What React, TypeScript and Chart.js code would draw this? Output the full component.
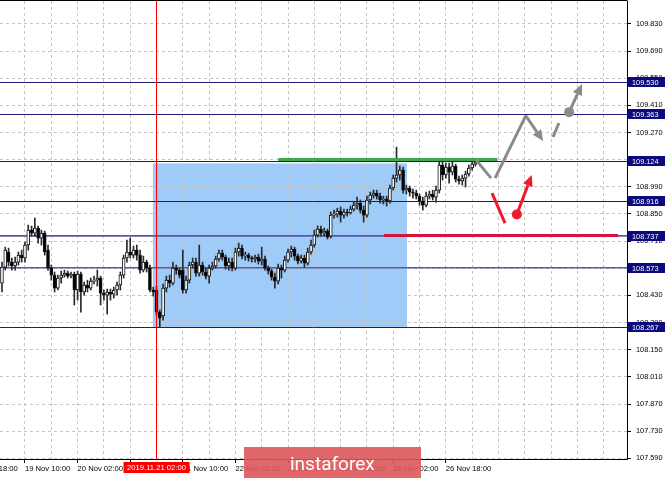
import { useEffect, useRef } from 'react';
import { Chart, registerables } from 'chart.js';

Chart.register(...registerables);

// ---- data ----
const firstBarHour = -7; // hours after 19 Nov 10:00 (weekend skipped)

const opens = [
  108.494, 108.576, 108.654, 108.602, 108.582, 108.602, 108.638, 108.623, 108.690, 108.767,
  108.751, 108.777, 108.726, 108.751, 108.664, 108.571, 108.535, 108.468, 108.520, 108.535,
  108.545, 108.530, 108.540, 108.458, 108.540, 108.448, 108.484, 108.468, 108.504, 108.509,
  108.520, 108.442, 108.432, 108.448, 108.437, 108.458, 108.484, 108.535, 108.623, 108.654,
  108.638, 108.664, 108.638, 108.561, 108.602, 108.571, 108.458, 108.458, 108.344, 108.324,
  108.468, 108.509, 108.494, 108.571, 108.561, 108.561, 108.458, 108.509, 108.587, 108.602,
  108.545, 108.587, 108.551, 108.530, 108.571, 108.582, 108.618, 108.648, 108.628, 108.582,
  108.602, 108.571, 108.654, 108.674, 108.633, 108.638, 108.623, 108.618, 108.628, 108.607,
  108.618, 108.571, 108.556, 108.525, 108.504, 108.571, 108.561, 108.612, 108.654, 108.669,
  108.633, 108.607, 108.623, 108.597, 108.654, 108.690, 108.741, 108.772, 108.751, 108.762,
  108.736, 108.844, 108.849, 108.865, 108.844, 108.860, 108.855, 108.875, 108.896, 108.906,
  108.870, 108.844, 108.922, 108.947, 108.958, 108.942, 108.922, 108.927, 108.917, 108.984,
  109.035, 109.051, 109.076, 108.973, 108.984, 108.963, 108.958, 108.942, 108.917, 108.896,
  108.942, 108.953, 108.937, 108.973, 109.102, 109.051, 109.092, 109.066, 109.097, 109.030,
  109.020, 109.035, 109.056, 109.087, 109.107,
];

const closes = [
  108.576, 108.664, 108.602, 108.582, 108.602, 108.638, 108.623, 108.690, 108.767, 108.751,
  108.777, 108.726, 108.751, 108.654, 108.571, 108.535, 108.468, 108.520, 108.535, 108.545,
  108.530, 108.540, 108.458, 108.540, 108.448, 108.484, 108.468, 108.504, 108.509, 108.520,
  108.442, 108.432, 108.448, 108.437, 108.458, 108.484, 108.535, 108.623, 108.654, 108.638,
  108.664, 108.638, 108.561, 108.602, 108.571, 108.458, 108.448, 108.344, 108.313, 108.468,
  108.509, 108.494, 108.571, 108.561, 108.535, 108.458, 108.509, 108.587, 108.602, 108.545,
  108.587, 108.551, 108.530, 108.571, 108.582, 108.618, 108.648, 108.628, 108.582, 108.602,
  108.571, 108.654, 108.674, 108.633, 108.638, 108.623, 108.618, 108.628, 108.607, 108.618,
  108.571, 108.556, 108.525, 108.504, 108.571, 108.561, 108.612, 108.654, 108.669, 108.633,
  108.607, 108.623, 108.597, 108.654, 108.690, 108.741, 108.772, 108.751, 108.762, 108.731,
  108.844, 108.849, 108.865, 108.844, 108.860, 108.855, 108.875, 108.896, 108.906, 108.870,
  108.844, 108.922, 108.947, 108.958, 108.942, 108.922, 108.927, 108.917, 108.984, 109.035,
  109.051, 109.076, 108.973, 108.984, 108.963, 108.958, 108.942, 108.917, 108.896, 108.942,
  108.953, 108.937, 108.973, 109.102, 109.051, 109.092, 109.066, 109.097, 109.030, 109.020,
  109.035, 109.056, 109.087, 109.107, 109.118,
];

const highs = [
  108.602, 108.679, 108.674, 108.623, 108.628, 108.654, 108.664, 108.705, 108.793, 108.788,
  108.829, 108.788, 108.767, 108.762, 108.690, 108.587, 108.551, 108.535, 108.556, 108.561,
  108.556, 108.551, 108.551, 108.556, 108.551, 108.499, 108.509, 108.520, 108.530, 108.561,
  108.530, 108.458, 108.463, 108.463, 108.473, 108.499, 108.551, 108.638, 108.716, 108.726,
  108.685, 108.690, 108.664, 108.633, 108.612, 108.587, 108.473, 108.478, 108.355, 108.489,
  108.530, 108.535, 108.602, 108.587, 108.571, 108.664, 108.530, 108.602, 108.623, 108.623,
  108.690, 108.602, 108.571, 108.587, 108.602, 108.633, 108.664, 108.664, 108.638, 108.623,
  108.623, 108.674, 108.700, 108.690, 108.654, 108.648, 108.633, 108.638, 108.643, 108.679,
  108.633, 108.582, 108.566, 108.545, 108.592, 108.587, 108.633, 108.669, 108.685, 108.679,
  108.643, 108.638, 108.638, 108.674, 108.716, 108.767, 108.788, 108.788, 108.777, 108.772,
  108.860, 108.870, 108.880, 108.886, 108.875, 108.875, 108.891, 108.911, 108.937, 108.922,
  108.891, 108.942, 108.963, 108.973, 108.973, 108.958, 108.942, 108.942, 108.999, 109.051,
  109.195, 109.097, 109.092, 108.999, 108.994, 108.978, 108.973, 108.953, 108.937, 108.963,
  108.968, 108.973, 108.994, 109.118, 109.118, 109.112, 109.112, 109.118, 109.107, 109.045,
  109.051, 109.071, 109.102, 109.123, 109.133,
];

const lows = [
  108.448, 108.561, 108.582, 108.561, 108.561, 108.587, 108.602, 108.602, 108.664, 108.736,
  108.736, 108.700, 108.690, 108.638, 108.561, 108.509, 108.448, 108.458, 108.494, 108.525,
  108.520, 108.520, 108.381, 108.406, 108.344, 108.432, 108.448, 108.458, 108.489, 108.478,
  108.381, 108.406, 108.334, 108.406, 108.417, 108.432, 108.458, 108.520, 108.602, 108.623,
  108.623, 108.612, 108.545, 108.551, 108.551, 108.448, 108.427, 108.329, 108.267, 108.303,
  108.448, 108.473, 108.484, 108.540, 108.520, 108.442, 108.442, 108.494, 108.571, 108.530,
  108.530, 108.535, 108.515, 108.494, 108.561, 108.571, 108.607, 108.612, 108.566, 108.561,
  108.556, 108.561, 108.633, 108.618, 108.612, 108.607, 108.602, 108.602, 108.592, 108.587,
  108.561, 108.540, 108.509, 108.468, 108.489, 108.520, 108.551, 108.602, 108.628, 108.612,
  108.592, 108.597, 108.576, 108.587, 108.643, 108.679, 108.731, 108.736, 108.736, 108.721,
  108.726, 108.829, 108.834, 108.808, 108.829, 108.839, 108.849, 108.865, 108.875, 108.855,
  108.808, 108.834, 108.901, 108.932, 108.927, 108.906, 108.901, 108.891, 108.906, 108.973,
  109.015, 109.025, 108.958, 108.953, 108.942, 108.932, 108.927, 108.896, 108.870, 108.886,
  108.927, 108.922, 108.911, 108.958, 109.025, 109.035, 109.009, 109.051, 109.015, 109.004,
  108.999, 108.989, 109.045, 109.076, 109.097,
];

const priceTicks = [
  107.59, 107.73, 107.87, 108.01, 108.15, 108.29, 108.43, 108.57, 108.71,
  108.85, 108.99, 109.13, 109.27, 109.41, 109.55, 109.69, 109.83,
];
const gridHours = [
  -8, 0, 8, 16, 24, 32, 40, 48, 56, 64, 72, 80, 88, 96, 104, 112, 120, 128,
  136, 144, 152, 160, 168, 176,
];
const timeLabelHours = [-16, 0, 16, 32, 48, 64, 80, 96, 112, 128];
const timeLabels = [
  '18 Nov 18:00', '19 Nov 10:00', '20 Nov 02:00', '20 Nov 18:00', '21 Nov 10:00',
  '22 Nov 02:00', '22 Nov 18:00', '25 Nov 10:00', '26 Nov 02:00', '26 Nov 18:00',
];
const markerHour = 40;
const markerLabel = '2019.11.21 02:00';

const levels = [109.53, 109.363, 109.124, 108.916, 108.737, 108.573, 108.267];

const zoneHours = [38.9, 116.2];
const zonePrices = [108.267, 109.111];

const greenHours = [77.0, 143.7];
const greenPrice = 109.131;
const redHours = [109.2, 180.4];
const redPrice = 108.739;

// scenario paths: [hour, price]
const grayPaths = [
  [[137.2, 109.128], [141.75, 109.035]],
  [[142.97, 109.035], [152.4, 109.36]],
];
const grayArrows = [
  [[152.4, 109.355], [157.6, 109.226]],
  [[165.5, 109.375], [169.43, 109.52]],
];
const grayDash = [[160.6, 109.247], [162.4, 109.319]];
const grayDot = [165.5, 109.375];

const redPath = [[142.05, 108.958], [146.0, 108.803]];
const redDot = [149.6, 108.848];
const redArrow = [[149.6, 108.848], [154.13, 109.051]];

const xMin = -7.6;
const xMax = 183.1;
const yMin = 107.587;
const yMax = 109.948;

// ---- styles ----
const axisFont = "'Liberation Sans Narrow','Liberation Sans',Arial,sans-serif";
const levelStyles = [
  { color: '#1e1e78', width: 1 },
  { color: '#1e1e78', width: 1 },
  { color: '#202038', width: 1 },
  { color: '#202038', width: 1 },
  { color: '#5858a8', width: 1.6 },
  { color: '#5858a8', width: 1.6 },
  { color: '#1e1e78', width: 1 },
];

function fitSize(text: string, target: number, maxSize: number) {
  const c = document.createElement('canvas').getContext('2d');
  if (!c) return maxSize;
  c.font = `10px ${axisFont}`;
  const w = c.measureText(text).width;
  if (!w) return maxSize;
  return Math.min(maxSize, (10 * target) / w);
}

function arrowLine(ctx: CanvasRenderingContext2D, x1: number, y1: number, x2: number, y2: number, color: string) {
  const ang = Math.atan2(y2 - y1, x2 - x1);
  const len = 11;
  const hw = 5;
  const bx = x2 - Math.cos(ang) * len;
  const by = y2 - Math.sin(ang) * len;
  ctx.strokeStyle = color;
  ctx.fillStyle = color;
  ctx.lineWidth = 3;
  ctx.beginPath();
  ctx.moveTo(x1, y1);
  ctx.lineTo(bx, by);
  ctx.stroke();
  ctx.beginPath();
  ctx.moveTo(x2, y2);
  ctx.lineTo(bx + Math.sin(ang) * hw, by - Math.cos(ang) * hw);
  ctx.lineTo(bx - Math.sin(ang) * hw, by + Math.cos(ang) * hw);
  ctx.closePath();
  ctx.fill();
}

function makeOverlay(ySize: number, xSize: number) {
  return {
    id: 'overlay',
    beforeDraw(chart: any) {
      const { ctx, scales } = chart;
      const x = scales.x;
      const y = scales.y;
      const x1 = x.getPixelForValue(zoneHours[0]);
      const x2 = x.getPixelForValue(zoneHours[1]);
      const y1 = y.getPixelForValue(zonePrices[1]);
      const y2 = y.getPixelForValue(zonePrices[0]);
      ctx.save();
      ctx.fillStyle = '#9ecbf7';
      ctx.fillRect(x1, y1, x2 - x1, y2 - y1);
      ctx.restore();
    },
    beforeDatasetsDraw(chart: any) {
      const { ctx, chartArea, scales } = chart;
      const y = scales.y;
      ctx.save();
      levels.forEach((lv, i) => {
        const st = levelStyles[i];
        let py = y.getPixelForValue(lv);
        if (st.width === 1) py = Math.round(py) + 0.5;
        ctx.strokeStyle = st.color;
        ctx.lineWidth = st.width;
        ctx.beginPath();
        ctx.moveTo(chartArea.left, py);
        ctx.lineTo(chartArea.right, py);
        ctx.stroke();
      });
      ctx.restore();
    },
    afterDatasetsDraw(chart: any) {
      const { ctx, scales } = chart;
      const x = scales.x;
      const y = scales.y;
      const P = (p: number[]) => [x.getPixelForValue(p[0]), y.getPixelForValue(p[1])];
      ctx.save();
      ctx.setLineDash([]);
      ctx.lineCap = 'butt';
      // green resistance
      ctx.strokeStyle = '#3aab4c';
      ctx.lineWidth = 3;
      ctx.beginPath();
      ctx.moveTo(x.getPixelForValue(greenHours[0]), y.getPixelForValue(greenPrice));
      ctx.lineTo(x.getPixelForValue(greenHours[1]), y.getPixelForValue(greenPrice));
      ctx.stroke();
      // red support
      ctx.strokeStyle = '#d5163c';
      ctx.beginPath();
      ctx.moveTo(x.getPixelForValue(redHours[0]), y.getPixelForValue(redPrice));
      ctx.lineTo(x.getPixelForValue(redHours[1]), y.getPixelForValue(redPrice));
      ctx.stroke();
      // gray scenario
      const gray = '#8a8a8a';
      ctx.strokeStyle = gray;
      ctx.lineWidth = 3;
      grayPaths.forEach((seg) => {
        const a = P(seg[0]);
        const b = P(seg[1]);
        ctx.beginPath();
        ctx.moveTo(a[0], a[1]);
        ctx.lineTo(b[0], b[1]);
        ctx.stroke();
      });
      {
        const a = P(grayDash[0]);
        const b = P(grayDash[1]);
        ctx.beginPath();
        ctx.moveTo(a[0], a[1]);
        ctx.lineTo(b[0], b[1]);
        ctx.stroke();
      }
      grayArrows.forEach((seg) => {
        const a = P(seg[0]);
        const b = P(seg[1]);
        arrowLine(ctx, a[0], a[1], b[0], b[1], gray);
      });
      {
        const d = P(grayDot);
        ctx.fillStyle = gray;
        ctx.beginPath();
        ctx.arc(d[0], d[1], 5, 0, Math.PI * 2);
        ctx.fill();
      }
      // red scenario
      const red = '#ee1c2a';
      {
        const a = P(redPath[0]);
        const b = P(redPath[1]);
        ctx.strokeStyle = red;
        ctx.lineWidth = 3;
        ctx.beginPath();
        ctx.moveTo(a[0], a[1]);
        ctx.lineTo(b[0], b[1]);
        ctx.stroke();
        const c = P(redArrow[0]);
        const e = P(redArrow[1]);
        arrowLine(ctx, c[0], c[1], e[0], e[1], red);
        const d = P(redDot);
        ctx.fillStyle = red;
        ctx.beginPath();
        ctx.arc(d[0], d[1], 5, 0, Math.PI * 2);
        ctx.fill();
      }
      ctx.restore();
    },
    afterDraw(chart: any) {
      const { ctx, chartArea, scales, width, height } = chart;
      const x = scales.x;
      const y = scales.y;
      ctx.save();
      // marker vertical line (topmost)
      const mxl = Math.floor(x.getPixelForValue(markerHour));
      ctx.fillStyle = 'rgb(255,0,0)';
      ctx.fillRect(mxl, chartArea.top, 1, chartArea.bottom - chartArea.top);
      // top frame
      ctx.strokeStyle = '#000';
      ctx.lineWidth = 1;
      ctx.beginPath();
      ctx.moveTo(chartArea.left, chartArea.top - 0.5);
      ctx.lineTo(chartArea.right + 0.5, chartArea.top - 0.5);
      ctx.stroke();
      // level labels
      ctx.font = `${ySize}px ${axisFont}`;
      ctx.textBaseline = 'middle';
      ctx.textAlign = 'left';
      levels.forEach((lv) => {
        const py = Math.round(y.getPixelForValue(lv));
        ctx.fillStyle = '#0a0a7e';
        ctx.fillRect(chartArea.right + 1, py - 5, width - chartArea.right - 1, 10);
        ctx.fillStyle = '#fff';
        ctx.fillText(lv.toFixed(3), chartArea.right + 5, py + 0.5);
      });
      // marker date label
      const mx = x.getPixelForValue(markerHour);
      ctx.font = `${xSize}px ${axisFont}`;
      const tw = ctx.measureText(markerLabel).width;
      const bw = Math.max(66, tw + 6);
      ctx.fillStyle = '#ff0000';
      ctx.fillRect(mx - bw / 2, chartArea.bottom + 3, bw, 11);
      ctx.fillStyle = '#fff';
      ctx.textAlign = 'center';
      ctx.fillText(markerLabel, mx, chartArea.bottom + 8.5);
      // watermark
      ctx.fillStyle = 'rgba(222, 88, 90, 0.9)';
      ctx.fillRect(244, height - 31, 177, 31);
      ctx.fillStyle = '#fff';
      ctx.font = '19px Roboto, "Open Sans", sans-serif';
      ctx.textAlign = 'left';
      ctx.textBaseline = 'alphabetic';
      ctx.fillText('instaforex', 290, height - 8);
      ctx.restore();
    },
  };
}

function zeroPadding(s: any) {
  s.paddingLeft = 0;
  s.paddingRight = 0;
  s.paddingTop = 0;
  s.paddingBottom = 0;
}

export default function App() {
  const ref = useRef<HTMLCanvasElement | null>(null);

  useEffect(() => {
    if (!ref.current) return;
    const ySize = fitSize('109.830', 26.5, 9);
    const xSize = fitSize('19 Nov 10:00', 45.5, 8.5);
    const bodyData = closes.map((c, i) => ({ x: firstBarHour + i, y: [opens[i], c] }));
    const wickData = closes.map((_c, i) => ({ x: firstBarHour + i, y: [lows[i], highs[i]] }));
    const isBull = (i: number) => closes[i] >= opens[i];
    const xTickValues = [-16, ...gridHours.filter((h) => h !== markerHour)];

    const chart = new Chart(ref.current, {
      type: 'bar',
      data: {
        datasets: [
          {
            label: 'body',
            data: bodyData as any,
            grouped: false,
            barThickness: 3,
            borderWidth: 1,
            borderSkipped: false,
            minBarLength: 1,
            backgroundColor: (c: any) => (c.dataIndex !== undefined && isBull(c.dataIndex) ? '#ffffff' : '#000000'),
            borderColor: '#111111',
          } as any,
          {
            label: 'wick',
            data: wickData as any,
            grouped: false,
            barThickness: 1,
            borderWidth: 0,
            backgroundColor: '#2a2a2a',
          } as any,
        ],
      },
      options: {
        animation: false,
        responsive: false,
        maintainAspectRatio: false,
        layout: { padding: { top: 1, left: 0, right: 0, bottom: 0 } },
        plugins: {
          legend: { display: false },
          tooltip: { enabled: false },
        },
        scales: {
          x: {
            type: 'linear',
            min: xMin,
            max: xMax,
            offset: false,
            afterBuildTicks: (s: any) => {
              s.ticks = xTickValues.map((v) => ({ value: v }));
            },
            afterFit: (s: any) => {
              s.height = 19;
              zeroPadding(s);
            },
            grid: {
              offset: false,
              color: (c: any) => (c.tick && c.tick.value < xMin ? 'rgba(0,0,0,0)' : '#c4c4c4'),
              lineWidth: 1,
              drawTicks: true,
              tickLength: 4,
              tickColor: (c: any) => (c.tick && timeLabelHours.includes(c.tick.value) && c.tick.value >= xMin ? '#000' : 'rgba(0,0,0,0)'),
              tickBorderDash: [],
            } as any,
            border: { display: true, color: '#000', width: 1, dash: [3, 3] } as any,
            ticks: {
              autoSkip: false,
              maxRotation: 0,
              minRotation: 0,
              align: 'start',
              padding: 1,
              color: '#000',
              font: { family: axisFont, size: xSize },
              callback: (v: any) => {
                const idx = timeLabelHours.indexOf(Number(v));
                return idx >= 0 ? timeLabels[idx] : '';
              },
            },
          },
          y: {
            type: 'linear',
            position: 'right',
            min: yMin,
            max: yMax,
            afterBuildTicks: (s: any) => {
              s.ticks = priceTicks.map((v) => ({ value: v }));
            },
            afterFit: (s: any) => {
              s.width = 38;
              zeroPadding(s);
            },
            grid: {
              color: '#c4c4c4',
              lineWidth: 1,
              drawTicks: true,
              tickLength: 4,
              tickColor: '#000',
              tickBorderDash: [],
            } as any,
            border: { display: true, color: '#000', width: 1, dash: [3, 3] } as any,
            ticks: {
              autoSkip: false,
              padding: 5,
              color: '#000',
              font: { family: axisFont, size: ySize },
              callback: (v: any) => Number(v).toFixed(3),
            },
          },
        },
      },
      plugins: [makeOverlay(ySize, xSize)],
    });
    return () => chart.destroy();
  }, []);

  return (
    <div style={{ position: 'fixed', left: 0, top: 0, width: 665, height: 478, background: '#fff' }}>
      <canvas ref={ref} width={665} height={478} style={{ display: 'block' }} />
    </div>
  );
}
